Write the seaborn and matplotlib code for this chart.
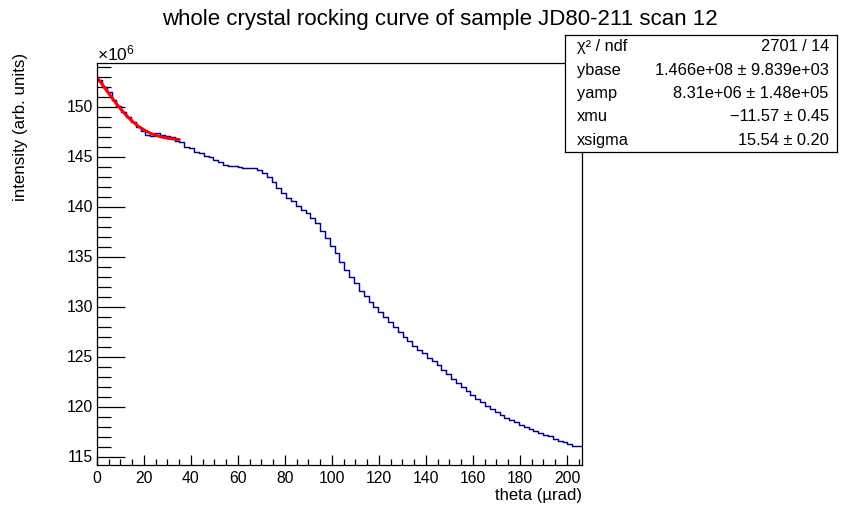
import numpy as np
import pandas as pd
import matplotlib
matplotlib.use("Agg")
import matplotlib.pyplot as plt
import seaborn as sns
from matplotlib.ticker import MultipleLocator

# ---------------- data (intensity in units of 1e6) ----------------
theta_min = 0.0
theta_max = 206.4
n_bins = 100
intensity = [
    152.7, 152.0, 151.4, 150.7, 150.1, 149.5, 149.0, 148.5, 148.0, 147.6,
    147.2, 147.1, 147.3, 147.2, 147.1, 146.9, 146.6, 146.4, 146.0, 145.8,
    145.5, 145.3, 145.1, 144.9, 144.7, 144.5, 144.2, 144.1, 144.1, 144.0,
    143.9, 143.9, 143.9, 143.7, 143.4, 143.0, 142.5, 141.9, 141.4, 140.9,
    140.6, 140.1, 139.7, 139.3, 138.8, 138.3, 137.6, 136.9, 136.1, 135.3,
    134.5, 133.7, 133.0, 132.3, 131.6, 131.1, 130.5, 130.0, 129.5, 129.0,
    128.5, 128.0, 127.5, 127.0, 126.6, 126.1, 125.7, 125.4, 124.9, 124.6,
    124.2, 123.7, 123.3, 122.8, 122.4, 122.0, 121.6, 121.2, 120.8, 120.5,
    120.1, 119.8, 119.5, 119.2, 118.9, 118.7, 118.5, 118.2, 118.0, 117.8,
    117.6, 117.4, 117.2, 117.1, 116.8, 116.6, 116.5, 116.3, 116.1, 116.1,
]

fit_theta = [0, 2.5, 5, 7.5, 10, 12.5, 15, 17.5, 20, 22.5, 25, 27.5, 30, 32.5, 35]
fit_intensity = [152.90, 152.12, 151.31, 150.51, 149.77, 149.10, 148.53, 148.04,
                 147.66, 147.35, 147.12, 146.95, 146.83, 146.75, 146.69]

stat_names = ["χ² / ndf", "ybase", "yamp", "xmu", "xsigma"]
stat_values = ["2701 / 14", "1.466e+08 ± 9.839e+03", "8.31e+06 ± 1.48e+05",
               "\u221211.57 ± 0.45", "15.54 ± 0.20"]

title = "whole crystal rocking curve of sample JD80-211 scan 12"
xlabel = "theta (\u00b5rad)"
ylabel = "intensity (arb. units)"

# ---------------- style ----------------
sns.set_theme(style="ticks")
plt.rcParams["font.family"] = ["Liberation Sans", "DejaVu Sans"]
plt.rcParams["mathtext.fontset"] = "custom"
plt.rcParams["mathtext.rm"] = "Liberation Sans"
plt.rcParams["mathtext.it"] = "Liberation Sans"
for key in ["text.color", "axes.labelcolor", "xtick.color", "ytick.color",
            "axes.edgecolor", "xtick.labelcolor", "ytick.labelcolor"]:
    plt.rcParams[key] = "black"
plt.rcParams["axes.linewidth"] = 0.9

W, H = 862, 516
fig = plt.figure(figsize=(W / 100, H / 100), dpi=100)
L, R, T, B = 97, 582, 63, 465
ax = fig.add_axes([L / W, 1 - B / H, (R - L) / W, (B - T) / H])

bin_w = (theta_max - theta_min) / n_bins
centers = theta_min + bin_w * (np.arange(n_bins) + 0.5)
df = pd.DataFrame({"theta": centers, "intensity": intensity})

sns.histplot(data=df, x="theta", weights="intensity", bins=n_bins,
             binrange=(theta_min, theta_max),
             element="step", fill=False, color="#000099", linewidth=1.05, ax=ax)
fit_df = pd.DataFrame({"theta": fit_theta, "intensity": fit_intensity})
sns.lineplot(data=fit_df, x="theta", y="intensity", color="#ff0000",
             linewidth=2.2, ax=ax)

ax.set_xlim(theta_min, theta_max)
ax.set_ylim(114.15, 154.35)
ax.xaxis.set_major_locator(MultipleLocator(20))
ax.xaxis.set_minor_locator(MultipleLocator(5))
ax.yaxis.set_major_locator(MultipleLocator(5))
ax.yaxis.set_minor_locator(MultipleLocator(1))
ax.tick_params(axis="x", which="major", direction="in", length=7.5, width=0.9,
               labelsize=11.3, pad=4, top=False)
ax.tick_params(axis="x", which="minor", direction="in", length=4, width=0.9, top=False)
ax.tick_params(axis="y", which="major", direction="in", length=20, width=0.9,
               labelsize=11.3, pad=3, right=False)
ax.tick_params(axis="y", which="minor", direction="in", length=10, width=0.9, right=False)
for s in ax.spines.values():
    s.set_visible(True)
    s.set_color("black")

ax.set_xlabel(xlabel, fontsize=12, ha="right")
ax.xaxis.set_label_coords(1.0, -0.057)
ax.xaxis.label.set_va("top")
ax.set_ylabel(ylabel, fontsize=12.2, ha="right")
ax.yaxis.set_label_coords(-0.157, 1.025)
ax.yaxis.label.set_va("center")

ax.text(0.0, 1.0075, r"$\times10^{6}$", transform=ax.transAxes, fontsize=12.5,
        ha="left", va="baseline")

fig.text(440 / W, 1 - 20 / H, title, ha="center", va="center", fontsize=16)

# ---------------- stats box ----------------
sx0, sx1, sy0, sy1 = 565, 837, 35, 152
sax = fig.add_axes([sx0 / W, 1 - sy1 / H, (sx1 - sx0) / W, (sy1 - sy0) / H])
sax.set_xlim(0, 1)
sax.set_ylim(0, 1)
sax.set_xticks([])
sax.set_yticks([])
sax.set_facecolor("white")
for s in sax.spines.values():
    s.set_color("black")
    s.set_linewidth(0.9)
n = len(stat_names)
for i, (nm, val) in enumerate(zip(stat_names, stat_values)):
    yy = 1 - (i + 0.5) / n
    sax.text(0.043, yy, nm, ha="left", va="center", fontsize=11.8)
    sax.text(0.97, yy, val, ha="right", va="center", fontsize=11.8)

fig.savefig("out.png", dpi=100)
